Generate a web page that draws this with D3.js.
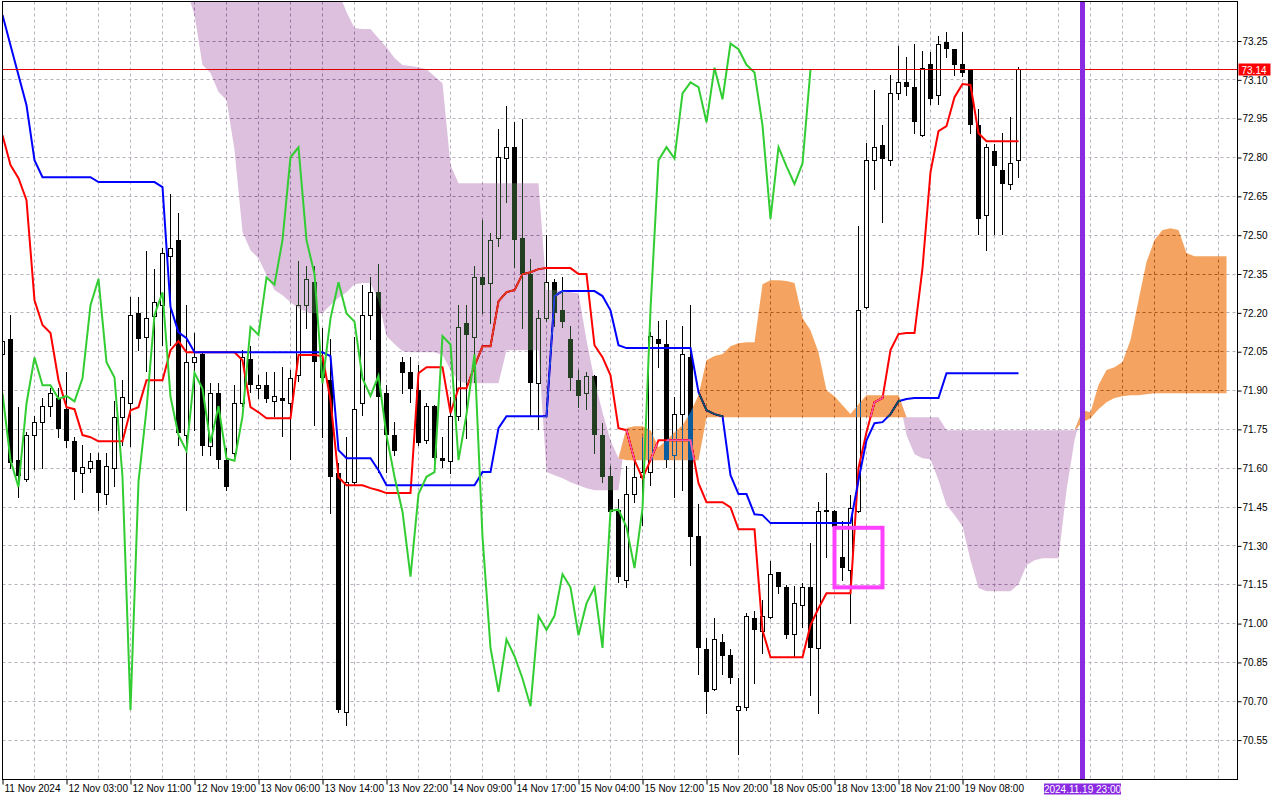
<!DOCTYPE html>
<html>
<head>
<meta charset="utf-8">
<script src="https://cdn.jsdelivr.net/npm/d3@7"></script>
<style>
body { margin: 0; background: #fff; }
svg { display: block; }
</style>
</head>
<body>
<svg id="chart"></svg>
<script>
// hourly candles, bar 0 = 11 Nov 2024
var timeLabels = ["11 Nov 2024", "12 Nov 03:00", "12 Nov 11:00", "12 Nov 19:00", "13 Nov 06:00", "13 Nov 14:00",
    "13 Nov 22:00", "14 Nov 09:00", "14 Nov 17:00", "15 Nov 04:00", "15 Nov 12:00", "15 Nov 20:00",
    "18 Nov 05:00", "18 Nov 13:00", "18 Nov 21:00", "19 Nov 08:00"];
var priceTicks = [73.25, 73.10, 72.95, 72.80, 72.65, 72.50, 72.35, 72.20, 72.05, 71.90,
    71.75, 71.60, 71.45, 71.30, 71.15, 71.00, 70.85, 70.70, 70.55];

var opens = [72.04,72.098,71.631,71.557,71.727,71.777,71.84,71.87,71.828,71.707,
    71.58,71.60,71.631,71.50,71.60,71.799,71.85,72.198,72.108,72.188,
    72.23,72.419,72.481,71.728,72.01,72.041,71.687,71.889,71.631,71.657,
    71.85,72.02,71.91,71.92,71.858,71.872,71.85,71.96,72.23,72.32,
    72.01,71.94,71.58,70.657,71.548,71.85,72.192,72.279,71.889,71.728,
    72.011,71.97,71.902,71.709,71.84,71.638,71.629,71.80,72.159,72.108,
    72.337,72.316,72.488,72.80,72.839,72.488,72.35,71.928,72.179,72.318,
    72.211,72.099,71.94,71.889,71.957,71.728,71.57,71.438,71.168,71.50,
    71.567,71.586,72.098,72.078,71.65,71.808,72.028,71.338,70.90,70.749,
    70.93,70.878,70.668,70.678,71.02,70.97,71.026,71.199,71.142,70.958,
    71.071,71.14,70.906,71.436,71.436,71.259,71.207,71.433,72.224,72.789,
    72.849,72.789,73.048,73.09,73.072,72.887,73.161,73.04,73.248,73.218,
    73.161,73.14,72.927,72.578,72.826,72.75,72.698,72.789];
var highs = [72.16,72.192,71.837,71.74,71.80,71.871,71.908,71.91,71.97,71.72,
    71.689,71.66,71.66,71.66,71.859,71.94,72.26,72.26,72.439,72.369,
    72.45,72.659,72.584,72.229,72.121,72.045,71.928,71.93,71.68,71.921,
    72.056,72.072,71.959,71.971,71.97,71.99,71.979,72.40,72.38,72.38,
    72.14,72.098,71.62,71.719,72.108,72.307,72.337,72.389,71.92,71.777,
    72.028,72.03,71.998,71.85,71.845,71.719,71.876,72.23,72.23,72.381,
    72.559,72.507,72.91,73.00,72.938,72.95,72.408,72.211,72.50,72.33,
    72.339,72.149,71.979,71.972,71.96,71.773,71.61,71.483,71.61,71.63,
    71.72,72.127,72.17,72.172,71.876,72.149,72.23,71.461,70.946,71.02,
    70.96,70.90,70.788,71.042,71.05,71.09,71.243,71.20,71.15,71.145,
    71.157,71.31,71.47,71.58,71.44,71.395,71.496,72.536,72.856,73.06,
    72.927,73.12,73.229,73.188,73.24,73.21,73.208,73.27,73.283,73.22,
    73.283,73.14,72.988,72.852,72.852,72.894,72.958,73.15];
var lows = [71.98,71.60,71.49,71.55,71.598,71.60,71.80,71.719,71.683,71.48,
    71.507,71.586,71.438,71.461,71.531,71.689,71.687,72.056,71.976,71.75,
    72.076,72.076,71.69,71.438,71.747,71.65,71.65,71.60,71.516,71.644,
    71.84,71.895,71.87,71.857,71.80,71.725,71.635,71.938,72.14,71.767,
    71.72,71.429,70.66,70.608,71.535,71.805,72.098,71.586,71.586,71.65,
    71.889,71.857,71.69,71.698,71.63,71.606,71.58,71.786,71.715,71.934,
    72.198,72.159,72.458,72.629,72.378,72.14,71.805,71.75,72.17,72.149,
    72.146,71.902,71.837,71.83,71.657,71.548,71.425,71.161,71.14,71.47,
    71.38,71.535,71.99,71.605,71.487,71.516,71.226,70.807,70.655,70.745,
    70.807,70.769,70.498,70.668,70.769,70.887,71.02,71.117,70.946,70.874,
    70.988,70.724,70.655,71.258,71.36,71.169,71.003,71.43,72.22,72.677,
    72.551,72.77,73.027,73.04,72.894,72.885,73.007,73.007,73.188,73.12,
    73.113,72.894,72.503,72.442,72.503,72.503,72.68,72.725];
var closes = [72.09,71.619,71.57,71.727,71.777,71.839,71.889,71.75,71.707,71.586,
    71.603,71.629,71.505,71.608,71.799,71.877,72.192,72.098,72.179,72.241,
    72.43,72.449,71.735,72.01,72.028,71.687,71.889,71.631,71.528,71.85,
    72.028,71.92,71.92,71.868,71.879,71.858,71.947,72.23,72.331,72.009,
    71.95,71.567,70.666,71.548,71.827,72.192,72.279,71.876,71.728,71.667,
    71.969,71.907,71.698,71.84,71.638,71.629,71.80,72.146,72.115,72.337,
    72.309,72.481,72.801,72.839,72.481,72.35,71.928,72.179,72.318,72.198,
    72.166,71.947,71.879,71.957,71.728,71.567,71.432,71.181,71.50,71.567,
    71.585,72.11,72.078,71.631,71.808,72.04,71.335,70.906,70.736,70.939,
    70.874,70.788,70.681,71.029,70.975,71.03,71.191,71.14,70.955,71.078,
    71.14,70.906,71.436,71.44,71.373,71.214,71.445,72.213,72.789,72.84,
    72.796,73.048,73.09,73.072,72.936,73.147,73.025,73.24,73.218,73.158,
    73.128,72.924,72.563,72.84,72.766,72.698,72.777,73.14];

var tenkan = [72.886,72.771,72.72,72.635,72.249,72.153,72.122,71.94,71.836,71.828,
    71.728,71.72,71.704,71.704,71.704,71.704,71.824,71.836,71.94,71.94,
    71.94,72.056,72.091,72.048,72.048,72.048,72.048,72.048,72.048,72.048,
    72.017,71.836,71.816,71.793,71.793,71.793,71.793,72.037,72.037,72.037,
    72.033,71.863,71.565,71.534,71.534,71.534,71.523,71.515,71.504,71.504,
    71.504,71.504,71.967,71.99,71.99,71.99,71.813,71.909,71.909,71.994,
    72.071,72.071,72.245,72.28,72.288,72.35,72.357,72.369,72.373,72.373,
    72.373,72.373,72.35,72.35,72.075,72.029,71.959,71.755,71.747,71.631,
    71.561,71.631,71.708,71.708,71.708,71.708,71.708,71.542,71.469,71.469,
    71.469,71.449,71.364,71.364,71.364,70.974,70.87,70.87,70.87,70.87,
    70.87,70.994,71.059,71.117,71.117,71.117,71.117,71.60,71.739,71.855,
    71.871,72.056,72.118,72.122,72.122,72.373,72.744,72.902,72.921,73.033,
    73.084,73.08,72.894,72.863,72.863,72.863,72.863,72.863];
var kijun = [73.35,73.234,73.118,73.002,72.79,72.724,72.724,72.724,72.724,72.724,
    72.724,72.724,72.705,72.705,72.705,72.705,72.705,72.705,72.705,72.705,
    72.686,72.222,72.125,72.102,72.048,72.048,72.048,72.048,72.048,72.048,
    72.048,72.048,72.048,72.048,72.048,72.048,72.048,72.048,72.048,72.048,
    72.048,72.033,71.67,71.639,71.639,71.639,71.639,71.592,71.534,71.534,
    71.534,71.534,71.534,71.534,71.534,71.534,71.534,71.534,71.534,71.534,
    71.585,71.585,71.755,71.801,71.801,71.801,71.801,71.801,71.801,72.265,
    72.284,72.284,72.284,72.284,72.284,72.265,72.21,72.075,72.064,72.064,
    72.064,72.064,72.064,72.064,72.064,72.064,72.064,71.894,71.824,71.809,
    71.801,71.573,71.50,71.50,71.422,71.419,71.388,71.388,71.388,71.388,
    71.388,71.388,71.388,71.388,71.388,71.388,71.388,71.554,71.708,71.774,
    71.778,71.809,71.859,71.867,71.871,71.871,71.871,71.871,71.967,71.967,
    71.967,71.967,71.967,71.967,71.967,71.967,71.967,71.967];
var chikouShift = 26;

// cloud values start at bar 22 and run 26 bars past the last candle
var cloudStart = 22;
var senkouA = [73.524,73.447,73.35,73.157,73.126,73.053,73.022,72.829,72.512,72.442,
    72.411,72.346,72.288,72.268,72.241,72.218,72.203,72.199,72.199,72.23,
    72.257,72.28,72.311,72.315,72.315,72.249,72.11,72.08,72.052,72.048,
    72.048,72.048,72.048,72.037,71.979,71.936,71.928,71.928,71.928,71.928,
    71.928,72.056,72.056,72.056,72.056,72.056,71.585,71.573,71.561,71.546,
    71.534,71.523,71.515,71.515,71.515,71.515,71.755,71.762,71.762,71.747,
    71.681,71.708,71.739,71.766,71.816,71.882,72.017,72.033,72.041,72.071,
    72.083,72.087,72.087,72.311,72.326,72.326,72.323,72.315,72.18,72.133,
    72.048,71.901,71.878,71.843,71.809,71.847,71.882,71.882,71.882,71.882,
    71.882,71.728,71.654,71.639,71.635,71.554,71.457,71.419,71.376,71.245,
    71.137,71.125,71.125,71.125,71.125,71.152,71.225,71.245,71.252,71.252,
    71.252,71.515,71.708,71.824,71.816,71.921,71.979,71.99,72.01,72.095,
    72.249,72.396,72.481,72.52,72.527,72.52,72.431,72.419,72.419,72.419,
    72.419,72.419];
var senkouB = [73.64,73.64,73.64,73.64,73.64,73.64,73.64,73.64,73.64,73.64,
    73.64,73.64,73.64,73.62,73.60,73.58,73.56,73.54,73.52,73.48,
    73.439,73.362,73.30,73.296,73.296,73.261,73.226,73.184,73.157,73.153,
    73.149,73.141,73.114,73.087,72.771,72.701,72.701,72.701,72.701,72.701,
    72.701,72.701,72.701,72.701,72.701,72.701,72.288,72.288,72.284,72.28,
    72.276,72.095,71.94,71.816,71.708,71.639,71.631,71.631,71.631,71.631,
    71.631,71.631,71.631,71.631,71.631,71.631,71.797,71.797,71.797,71.797,
    71.797,71.797,71.797,71.797,71.797,71.797,71.797,71.797,71.797,71.797,
    71.797,71.797,71.797,71.797,71.797,71.797,71.797,71.797,71.797,71.797,
    71.797,71.797,71.797,71.797,71.797,71.797,71.747,71.747,71.747,71.747,
    71.747,71.747,71.747,71.747,71.747,71.747,71.747,71.747,71.747,71.747,
    71.747,71.747,71.747,71.778,71.793,71.828,71.855,71.871,71.878,71.882,
    71.882,71.886,71.89,71.89,71.89,71.89,71.89,71.89,71.89,71.89,
    71.89,71.89];

var lastPrice = 73.14;
var markerBar = 135, markerLabel = "2024.11.19 23:00";
var boxBars = [104, 110], boxPrices = [71.37, 71.14];

var settings = {
    width: 1280, height: 800,
    left: 2.5, top: 1.5, right: 1237.5, bottom: 779.5,
    font: "'Liberation Sans', Arial, sans-serif"
};

var svg = d3.select("#chart")
    .attr("width", settings.width)
    .attr("height", settings.height);

svg.append("rect").attr("width", settings.width).attr("height", settings.height).attr("fill", "#fff");

var x = d3.scaleLinear().domain([0, 153]).range([2.5, 1226.5]);
var y = d3.scaleLinear().domain([70.55, 73.25]).range([740.1, 41]);

function crisp(v) { return Math.round(v - 0.5) + 0.5; }

svg.append("defs").append("clipPath").attr("id", "plot-clip")
    .append("rect")
    .attr("x", settings.left).attr("y", settings.top)
    .attr("width", settings.right - settings.left).attr("height", settings.bottom - settings.top);

var plot = svg.append("g").attr("clip-path", "url(#plot-clip)");
plot.append("rect")
    .attr("x", 0).attr("y", 0).attr("width", settings.right).attr("height", settings.bottom)
    .attr("fill", "#fff");

/* grid */
var grid = plot.append("g")
    .attr("stroke", "#b8b0bc")
    .attr("stroke-width", 1)
    .attr("stroke-dasharray", "3,3");
grid.selectAll("line.h")
    .data(priceTicks)
    .enter()
    .append("line")
    .attr("x1", settings.left).attr("x2", settings.right)
    .attr("y1", function (d) { return crisp(y(d)); })
    .attr("y2", function (d) { return crisp(y(d)); });
grid.selectAll("line.v")
    .data(d3.range(4, 154, 4))
    .enter()
    .append("line")
    .attr("x1", function (d) { return x(d); })
    .attr("x2", function (d) { return x(d); })
    .attr("y1", settings.top).attr("y2", settings.bottom);

/* candles */
var bars = opens.map(function (o, i) {
    return { i: i, o: o, h: highs[i], l: lows[i], c: closes[i] };
});
var candle = plot.append("g").selectAll("g")
    .data(bars)
    .enter()
    .append("g");

candle.append("line")
    .attr("x1", function (d) { return x(d.i); })
    .attr("x2", function (d) { return x(d.i); })
    .attr("y1", function (d) { return Math.round(y(d.h)); })
    .attr("y2", function (d) { return Math.round(y(d.l)) + 1; })
    .attr("stroke", "#000")
    .attr("stroke-width", 1);

candle.append("rect")
    .attr("x", function (d) { return d.c >= d.o ? x(d.i) - 2 : x(d.i) - 2.5; })
    .attr("width", function (d) { return d.c >= d.o ? 4 : 5; })
    .attr("y", function (d) {
        var top = Math.round(y(Math.max(d.o, d.c)));
        return d.c >= d.o ? top + 0.5 : top;
    })
    .attr("height", function (d) {
        var h = Math.round(y(Math.min(d.o, d.c))) - Math.round(y(Math.max(d.o, d.c)));
        return Math.max(d.c >= d.o ? 1 : 2, h);
    })
    .attr("fill", function (d) { return d.c >= d.o ? "#fff" : "#000"; })
    .attr("stroke", function (d) { return d.c >= d.o ? "#000" : "none"; })
    .attr("stroke-width", 1);

/* ichimoku lines */
var line = d3.line()
    .x(function (d, i) { return x(i); })
    .y(function (d) { return y(d); });

plot.append("path").datum(tenkan)
    .attr("d", line).attr("fill", "none")
    .attr("stroke", "#ff0000").attr("stroke-width", 2);
plot.append("path").datum(kijun)
    .attr("d", line).attr("fill", "none")
    .attr("stroke", "#0000ff").attr("stroke-width", 2);

/* cloud, drawn like the terminal does: inverted colour over what is below */
var cloud = senkouA.map(function (a, k) {
    return { i: k + cloudStart, a: a, b: senkouB[k] };
});
var cloudGroup = plot.append("g").style("mix-blend-mode", "difference");

cloudGroup.append("path").datum(cloud)
    .attr("d", d3.area()
        .x(function (d) { return x(d.i); })
        .y0(function (d) { return y(d.a); })
        .y1(function (d) { return y(Math.max(d.a, d.b)); }))
    .attr("fill", "#233f21");   // thistle, inverted
cloudGroup.append("path").datum(cloud)
    .attr("d", d3.area()
        .x(function (d) { return x(d.i); })
        .y0(function (d) { return y(d.b); })
        .y1(function (d) { return y(Math.max(d.a, d.b)); }))
    .attr("fill", "#0b5b9f");   // sandybrown, inverted

// chikou span is painted after the cloud
plot.append("path").datum(closes.slice(chikouShift))
    .attr("d", line).attr("fill", "none")
    .attr("stroke", "#32cd32").attr("stroke-width", 2);

/* price line, time marker, rectangle */
plot.append("line")
    .attr("x1", settings.left).attr("x2", settings.right)
    .attr("y1", crisp(y(lastPrice))).attr("y2", crisp(y(lastPrice)))
    .attr("stroke", "#e00000").attr("stroke-width", 1);

plot.append("line")
    .attr("x1", x(markerBar)).attr("x2", x(markerBar))
    .attr("y1", settings.top).attr("y2", settings.bottom)
    .attr("stroke", "#8a2be2").attr("stroke-width", 5);

plot.append("rect")
    .attr("x", x(boxBars[0])).attr("y", y(boxPrices[0]))
    .attr("width", x(boxBars[1]) - x(boxBars[0]))
    .attr("height", y(boxPrices[1]) - y(boxPrices[0]))
    .attr("fill", "none")
    .attr("stroke", "#ff40ff").attr("stroke-width", 4);

/* frame */
svg.append("rect")
    .attr("x", settings.left).attr("y", settings.top)
    .attr("width", settings.right - settings.left).attr("height", settings.bottom - settings.top)
    .attr("fill", "none").attr("stroke", "#000").attr("stroke-width", 1);

/* axes */
var yAxis = svg.append("g")
    .attr("transform", "translate(" + settings.right + ",0)")
    .call(d3.axisRight(y).tickValues(priceTicks).tickSize(4).tickPadding(1).tickFormat(d3.format(".2f")));
yAxis.select(".domain").remove();

var xAxis = svg.append("g")
    .attr("transform", "translate(0," + settings.bottom + ")")
    .call(d3.axisBottom(x)
        .tickValues(d3.range(0, 128, 8))
        .tickSize(5).tickPadding(0.5)
        .tickFormat(function (d, i) { return timeLabels[i]; }));
xAxis.select(".domain").remove();
xAxis.selectAll("text").attr("x", 1.5).style("text-anchor", "start");

svg.selectAll(".tick text")
    .attr("font-family", settings.font)
    .attr("font-size", 10)
    .attr("fill", "#000");
svg.selectAll(".tick line").attr("stroke", "#000");

/* value labels */
var py = crisp(y(lastPrice));
svg.append("rect")
    .attr("x", settings.right + 1).attr("y", py - 6)
    .attr("width", 32).attr("height", 12)
    .attr("fill", "#ff0000");
svg.append("text")
    .attr("x", settings.right + 4).attr("y", py + 4)
    .attr("font-family", settings.font).attr("font-size", 10)
    .attr("fill", "#fff")
    .text(d3.format(".2f")(lastPrice));

var mx = x(markerBar);
svg.append("rect")
    .attr("x", mx - 38.5).attr("y", 783.5)
    .attr("width", 77).attr("height", 11)
    .attr("fill", "#8a2be2");
svg.append("text")
    .attr("x", mx).attr("y", 792.5)
    .attr("text-anchor", "middle")
    .attr("font-family", settings.font).attr("font-size", 10)
    .attr("fill", "#fff")
    .text(markerLabel);
</script>
</body>
</html>
